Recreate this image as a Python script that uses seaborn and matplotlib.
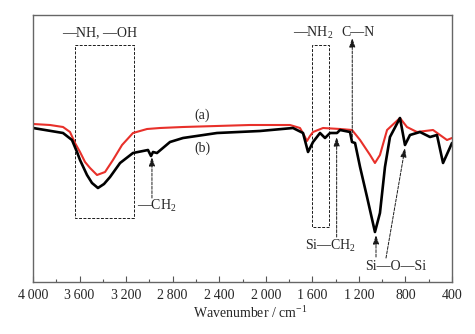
import numpy as np
import pandas as pd
import seaborn as sns
import matplotlib.pyplot as plt
import matplotlib.ticker as ticker
from matplotlib.patches import Rectangle

# ---- data (wavenumber in cm-1, transmittance in arbitrary units) ----
wn_a = [4000, 3854, 3742, 3682, 3639, 3596, 3553, 3510, 3450, 3381, 3313, 3235, 3141, 3020,
        2909, 2711, 2136, 1792, 1706, 1672, 1646, 1620, 1594, 1508, 1362, 1259, 1190, 1104,
        1062, 1019, 958, 847, 787, 701, 563, 503, 443, 400]
t_a = [158, 157, 155, 150, 139, 130, 120, 114, 107, 110, 122, 137, 149, 153,
       154, 155, 157, 157, 154, 147, 141, 146, 150, 154, 153, 152, 142, 127,
       119, 127, 152, 164, 155, 150, 152, 147, 142, 144]

wn_b = [4000, 3742, 3665, 3622, 3596, 3536, 3493, 3442, 3390, 3338, 3252, 3141, 3012, 2986,
        2969, 2935, 2823, 2711, 2419, 2050, 1766, 1680, 1637, 1594, 1534, 1491, 1448, 1388,
        1362, 1276, 1259, 1233, 1190, 1130, 1062, 1019, 976, 933, 847, 804, 761, 675,
        589, 529, 477, 400]
t_b = [154, 149, 142, 130, 122, 107, 99, 94, 98, 105, 119, 129, 132, 126,
       130, 129, 140, 144, 149, 151, 154, 149, 130, 140, 149, 144, 149, 149,
       152, 150, 140, 139, 115, 85, 50, 69, 115, 145, 164, 137, 147, 150,
       145, 147, 119, 139]

series_names = ["(a)", "(b)"]
series_colors = ["#e8302a", "#000000"]
x_ticks = [4000, 3600, 3200, 2800, 2400, 2000, 1600, 1200, 800, 400]
x_tick_labels = ["4\u2009000", "3\u2009600", "3\u2009200", "2\u2009800", "2\u2009400",
                 "2\u2009000", "1\u2009600", "1\u2009200", "800", "400"]

df = pd.concat([
    pd.DataFrame({"wn": wn_a, "T": t_a, "sample": series_names[0]}),
    pd.DataFrame({"wn": wn_b, "T": t_b, "sample": series_names[1]}),
], ignore_index=True)

sns.set_theme(style="ticks")
plt.rcParams["font.family"] = ["Liberation Serif", "DejaVu Serif"]
plt.rcParams["mathtext.fontset"] = "custom"
plt.rcParams["mathtext.rm"] = "Liberation Serif"
plt.rcParams["mathtext.it"] = "Liberation Serif:italic"

fig = plt.figure(figsize=(4.75, 3.34), dpi=100)
ax = fig.add_axes([33 / 475, 1 - 282 / 334, 419 / 475, 267 / 334])

sns.lineplot(data=df[df["sample"] == "(a)"], x="wn", y="T", color=series_colors[0],
             lw=1.5, estimator=None, ax=ax, legend=False)
sns.lineplot(data=df[df["sample"] == "(b)"], x="wn", y="T", color=series_colors[1],
             lw=1.9, estimator=None, ax=ax, legend=False)

ax.set_xlim(4000, 400)
ax.set_ylim(0, 267)
ax.set_xticks(x_ticks)
ax.set_xticklabels(x_tick_labels, fontsize=10)
ax.xaxis.set_minor_locator(ticker.MultipleLocator(200))
ax.tick_params(axis="x", which="major", direction="in", length=4, width=0.8, color="#555555", pad=5)
ax.tick_params(axis="x", which="minor", direction="in", length=2.5, width=0.8, color="#555555")
ax.set_yticks([])
ax.set_ylabel("")
ax.set_xlabel("Wavenumber / cm$^{-1}$", fontsize=10, labelpad=4)
ax.xaxis.set_label_coords(0.518, -0.085)
for sp in ax.spines.values():
    sp.set_color("#666666")
    sp.set_linewidth(1.0)

fs = 10
dash = (0, (3, 1.5))

# dashed boxes
ax.add_patch(Rectangle((3132, 64), 3639 - 3132, 237 - 64, fill=False, ec="k", lw=0.7, ls=dash))
ax.add_patch(Rectangle((1454, 55), 1605 - 1454, 237 - 55, fill=False, ec="k", lw=0.7, ls=dash))

# labels
ax.text(3424, 249, "\u2014NH, \u2014OH", ha="center", va="center", fontsize=fs)
ax.text(1594, 249, "\u2014NH$_2$", ha="center", va="center", fontsize=fs)
ax.text(1208, 249, "C\u2014N", ha="center", va="center", fontsize=fs)
ax.text(2548, 167, "(a)", ha="center", va="center", fontsize=fs)
ax.text(2548, 134, "(b)", ha="center", va="center", fontsize=fs)
ax.text(3106, 76, "\u2014CH$_2$", ha="left", va="center", fontsize=fs)
ax.text(1440, 36, "Si\u2014CH$_2$", ha="center", va="center", fontsize=fs)
ax.text(881, 15, "Si\u2014O\u2014Si", ha="center", va="center", fontsize=fs)

# arrows
arrow_kw = dict(arrowstyle="-|>,head_length=0.45,head_width=0.15", color="k",
                lw=0.7, ls=dash, shrinkA=0, shrinkB=0)
ax.annotate("", xy=(2978, 125), xytext=(2978, 84), arrowprops=arrow_kw)
ax.annotate("", xy=(1257, 244), xytext=(1257, 145), arrowprops=arrow_kw)
ax.annotate("", xy=(1391, 145), xytext=(1391, 45), arrowprops=arrow_kw)
ax.annotate("", xy=(1053, 47), xytext=(1053, 25), arrowprops=arrow_kw)
ax.annotate("", xy=(804, 134), xytext=(967, 24), arrowprops=arrow_kw)

fig.savefig("out.png", dpi=100)
